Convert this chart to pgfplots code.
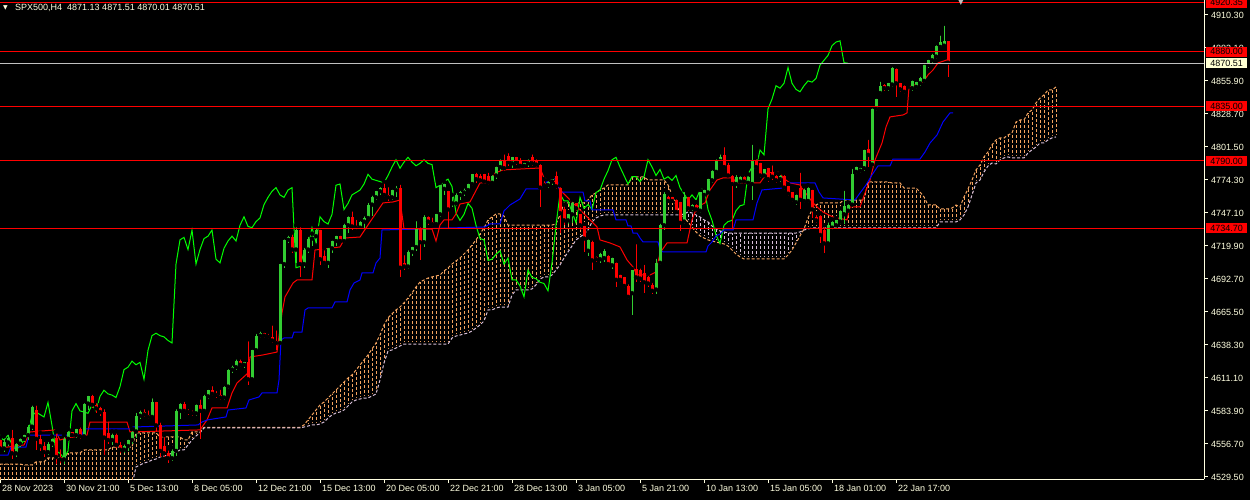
\documentclass[border=0pt]{standalone}
\usepackage{fontspec}
\setmainfont{Liberation Sans}
\newfontfamily\symfont{DejaVu Sans}
\usepackage{pgfplots}
\usepackage{pgfplotstable}
\pgfplotsset{compat=1.18}

\definecolor{cgreen}{RGB}{50,205,50}
\definecolor{cred}{RGB}{255,0,0}
\definecolor{lime}{RGB}{0,255,0}
\definecolor{kblue}{RGB}{0,0,255}
\definecolor{sandy}{RGB}{244,164,96}
\definecolor{thist}{RGB}{216,191,216}
\definecolor{fg}{RGB}{255,255,225}
\definecolor{bidc}{RGB}{192,192,192}
\definecolor{bidbox}{RGB}{255,255,210}

% H4 candles, bar index i (4 px per bar)
\pgfplotstableread{
i o h l c
0 4560 4562 4552 4553
1 4553 4563 4550 4558
2 4558 4566 4555 4562
3 4562 4570 4544 4549
4 4549 4559 4546 4557
5 4557 4563 4554 4561
6 4561 4566 4558 4564
7 4564 4574 4560 4571
8 4571 4590 4568 4587
9 4585 4590 4552 4561
10 4561 4566 4551 4555
11 4555 4560 4546 4550
12 4550 4560 4548 4557
13 4557 4563 4554 4561
14 4562 4567 4540 4546
15 4546 4554 4541 4544
16 4544 4564 4540 4561
17 4561 4569 4559 4567
18 4567 4568 4562 4564
19 4564 4571 4562 4569
20 4569 4572 4561 4563
21 4563 4592 4562 4590
22 4590 4598 4585 4596
23 4596 4599 4586 4589
24 4589 4592 4582 4586
25 4586 4589 4580 4583
26 4583 4587 4548 4562
27 4566 4577 4557 4560
28 4560 4567 4556 4564
29 4564 4567 4553 4556
30 4556 4560 4549 4552
31 4552 4558 4549 4555
32 4555 4562 4551 4560
33 4560 4569 4557 4567
34 4567 4584 4562 4580
35 4580 4586 4577 4583
36 4583 4587 4579 4581
37 4581 4586 4577 4579
38 4579 4596 4578 4591
39 4591 4593 4567 4572
40 4572 4576 4546 4551
41 4555 4564 4546 4549
42 4549 4553 4541 4545
43 4545 4554 4543 4551
44 4551 4587 4547 4584
45 4584 4592 4577 4590
46 4590 4593 4582 4584
47 4584 4587 4581 4583
48 4583 4586 4580 4582
49 4582 4591 4580 4589
50 4589 4595 4561 4584
51 4584 4599 4583 4596
52 4596 4603 4594 4601
53 4601 4606 4596 4598
54 4598 4602 4595 4597
55 4597 4603 4593 4595
56 4595 4606 4593 4604
57 4604 4620 4602 4618
58 4618 4623 4615 4620
59 4620 4628 4618 4625
60 4625 4628 4620 4622
61 4622 4626 4619 4624
62 4624 4643 4605 4610
63 4610 4636 4609 4634
64 4634 4649 4633 4646
65 4646 4651 4644 4648
66 4648 4650 4644 4646
67 4646 4649 4643 4645
68 4645 4656 4640 4642
69 4642 4652 4634 4640
70 4640 4707 4638 4705
71 4705 4727 4702 4725
72 4725 4730 4722 4727
73 4727 4731 4714 4717
74 4717 4737 4706 4733
75 4733 4737 4694 4705
76 4705 4720 4702 4717
77 4717 4729 4714 4726
78 4726 4730 4720 4728
79 4728 4736 4722 4733
80 4733 4735 4704 4709
81 4712 4718 4704 4706
82 4706 4720 4702 4718
83 4718 4726 4714 4724
84 4724 4730 4720 4728
85 4728 4730 4722 4724
86 4724 4740 4722 4737
87 4737 4746 4731 4744
88 4744 4750 4733 4736
89 4736 4743 4733 4735
90 4735 4742 4734 4740
91 4740 4746 4735 4743
92 4743 4757 4741 4754
93 4754 4763 4745 4760
94 4760 4767 4758 4765
95 4765 4770 4762 4768
96 4768 4773 4760 4762
97 4762 4770 4757 4760
98 4760 4768 4758 4766
99 4766 4771 4760 4768
100 4768 4772 4694 4702
101 4706 4714 4700 4703
102 4703 4718 4701 4715
103 4715 4721 4712 4719
104 4719 4742 4716 4735
105 4735 4737 4708 4723
106 4723 4747 4719 4744
107 4744 4746 4737 4740
108 4740 4745 4736 4738
109 4738 4748 4737 4746
110 4746 4772 4744 4770
111 4767 4773 4762 4771
112 4765 4767 4735 4750
113 4755 4762 4752 4755
114 4755 4765 4753 4762
115 4762 4767 4758 4764
116 4764 4769 4761 4766
117 4766 4773 4764 4771
118 4771 4781 4769 4779
119 4779 4782 4772 4775
120 4778 4781 4772 4774
121 4779 4781 4771 4773
122 4778 4782 4770 4772
123 4772 4780 4771 4778
124 4778 4787 4775 4785
125 4785 4793 4782 4791
126 4791 4797 4782 4784
127 4794 4798 4786 4789
128 4788 4795 4784 4793
129 4793 4795 4787 4789
130 4791 4794 4784 4786
131 4786 4790 4784 4788
132 4788 4793 4785 4791
133 4793 4797 4786 4788
134 4790 4793 4785 4787
135 4787 4789 4752 4768
136 4772 4775 4769 4770
137 4770 4775 4768 4773
138 4773 4776 4770 4775
139 4778 4783 4767 4769
140 4768 4770 4731 4747
141 4750 4754 4737 4741
142 4741 4748 4738 4746
143 4746 4758 4739 4755
144 4755 4756 4749 4751
145 4746 4747 4733 4737
146 4736 4738 4715 4726
147 4716 4727 4712 4725
148 4723 4726 4700 4708
149 4711 4713 4707 4709
150 4709 4716 4706 4713
151 4710 4719 4707 4716
152 4712 4714 4703 4705
153 4704 4712 4701 4710
154 4706 4708 4686 4692
155 4696 4698 4690 4692
156 4694 4696 4685 4687
157 4687 4690 4676 4678
158 4681 4701 4663 4700
159 4701 4723 4690 4694
160 4700 4703 4690 4693
161 4698 4706 4681 4690
162 4694 4697 4686 4689
163 4688 4691 4680 4683
164 4684 4711 4680 4706
165 4706 4740 4704 4737
166 4737 4766 4733 4763
167 4760 4763 4755 4757
168 4760 4762 4755 4757
169 4758 4760 4746 4748
170 4756 4758 4732 4739
171 4740 4766 4738 4760
172 4760 4762 4749 4751
173 4751 4756 4749 4754
174 4754 4756 4748 4750
175 4749 4766 4747 4764
176 4762 4768 4760 4766
177 4764 4777 4762 4775
178 4774 4784 4772 4782
179 4781 4793 4779 4791
180 4790 4797 4788 4793
181 4795 4803 4783 4785
182 4787 4790 4776 4778
183 4778 4780 4735 4771
184 4771 4780 4768 4777
185 4773 4779 4771 4777
186 4777 4779 4771 4773
187 4772 4779 4770 4777
188 4771 4805 4758 4791
189 4791 4793 4783 4785
190 4788 4790 4776 4778
191 4778 4785 4776 4783
192 4784 4786 4773 4775
193 4781 4788 4774 4777
194 4778 4780 4772 4774
195 4775 4780 4773 4778
196 4778 4780 4766 4768
197 4769 4771 4761 4763
198 4764 4766 4756 4758
199 4756 4764 4754 4762
200 4768 4782 4750 4758
201 4757 4769 4755 4766
202 4757 4770 4755 4768
203 4766 4768 4743 4750
204 4744 4747 4739 4741
205 4745 4747 4722 4729
206 4733 4737 4714 4722
207 4722 4741 4721 4737
208 4735 4742 4733 4740
209 4737 4743 4735 4741
210 4740 4751 4738 4749
211 4746 4767 4738 4753
212 4749 4756 4747 4754
213 4754 4785 4752 4779
214 4781 4787 4779 4785
215 4782 4786 4780 4784
216 4784 4801 4782 4799
217 4800 4809 4785 4795
218 4787 4835 4785 4833
219 4833 4843 4831 4841
220 4846 4857 4844 4852
221 4853 4855 4848 4850
222 4850 4856 4848 4854
223 4853 4869 4851 4867
224 4866 4868 4843 4854
225 4854 4856 4847 4849
226 4852 4854 4845 4847
227 4851 4854 4849 4852
228 4850 4858 4848 4856
229 4851 4857 4849 4855
230 4854 4861 4852 4858
231 4856 4871 4854 4869
232 4869 4875 4867 4873
233 4873 4880 4871 4877
234 4876 4887 4874 4885
235 4884 4895 4883 4888
236 4885 4903 4884 4889
237 4889 4890 4859 4871
238 4871.13 4871.51 4870.01 4870.51
}\candles

% Senkou span A (a) and span B (b), already shifted 26 bars forward
\pgfplotstableread{
i a b
0 4540.2 4522.9
1 4540.2 4522.9
2 4540.2 4522.9
3 4540.2 4522.9
4 4540.2 4522.9
5 4540.2 4522.9
6 4539.4 4522.9
7 4539.4 4522.9
8 4539.4 4522.9
9 4541.9 4522.9
10 4541.9 4522.9
11 4541.9 4522.9
12 4545.2 4522.9
13 4545.2 4522.9
14 4545.2 4522.9
15 4545.2 4522.9
16 4545.2 4522.9
17 4549.3 4522.9
18 4549.3 4522.9
19 4549.3 4522.9
20 4549.3 4522.9
21 4551.8 4522.9
22 4551.8 4522.9
23 4551.8 4522.9
24 4551.8 4522.9
25 4551.8 4522.9
26 4551.8 4522.9
27 4551.8 4522.9
28 4554.2 4522.9
29 4554.2 4522.9
30 4554.2 4522.9
31 4554.2 4522.9
32 4554.2 4522.9
33 4554.2 4522.9
34 4565.8 4537.8
35 4565.8 4539.4
36 4565.8 4541.0
37 4565.8 4541.9
38 4565.8 4543.5
39 4565.8 4544.3
40 4562.5 4546.0
41 4562.5 4546.8
42 4562.5 4547.6
43 4562.5 4549.3
44 4562.5 4550.1
45 4562.5 4551.8
46 4560.0 4551.8
47 4560.0 4555.9
48 4566.6 4560.0
49 4566.6 4563.3
50 4566.6 4566.0
51 4570.5 4569.9
52 4570.5 4569.9
53 4570.5 4569.9
54 4570.5 4569.9
55 4570.5 4569.9
56 4570.5 4569.9
57 4570.5 4569.9
58 4570.5 4569.9
59 4570.5 4569.9
60 4570.5 4569.9
61 4570.5 4569.9
62 4570.5 4569.9
63 4570.5 4569.9
64 4570.5 4569.9
65 4570.5 4569.9
66 4570.5 4569.9
67 4570.5 4569.9
68 4570.5 4569.9
69 4570.5 4569.9
70 4570.5 4569.9
71 4570.5 4569.9
72 4570.5 4569.9
73 4570.5 4569.9
74 4570.5 4569.9
75 4570.5 4569.9
76 4572.4 4570.7
77 4576.5 4571.5
78 4580.6 4572.4
79 4584.7 4572.4
80 4588.9 4573.2
81 4591.3 4574.8
82 4594.6 4578.1
83 4597.9 4580.6
84 4601.2 4582.3
85 4604.5 4583.1
86 4607.8 4584.7
87 4611.1 4588.0
88 4613.6 4591.3
89 4617.7 4593.0
90 4621.8 4593.8
91 4626.0 4594.6
92 4630.1 4594.6
93 4635.0 4596.3
94 4639.9 4597.9
95 4646.5 4609.5
96 4654.8 4623.5
97 4660.6 4633.4
98 4663.9 4634.2
99 4667.2 4635.8
100 4669.6 4637.5
101 4673.0 4639.1
102 4677.1 4639.1
103 4681.2 4639.1
104 4686.1 4639.1
105 4690.2 4639.1
106 4691.9 4639.1
107 4693.5 4639.1
108 4694.4 4639.1
109 4695.2 4639.1
110 4696.0 4639.1
111 4699.3 4639.1
112 4701.8 4639.1
113 4705.1 4644.1
114 4707.6 4645.7
115 4710.0 4646.5
116 4713.3 4647.4
117 4716.6 4648.2
118 4720.7 4649.8
119 4724.9 4652.3
120 4729.8 4654.8
121 4734.8 4658.1
122 4741.4 4667.2
123 4743.8 4667.2
124 4746.3 4668.8
125 4746.3 4669.6
126 4744.6 4669.6
127 4737.2 4669.6
128 4737.2 4679.5
129 4737.2 4683.7
130 4737.2 4683.7
131 4737.2 4683.7
132 4737.2 4683.7
133 4737.2 4684.5
134 4737.2 4687.8
135 4737.2 4692.7
136 4737.2 4694.4
137 4737.2 4694.4
138 4737.2 4696.0
139 4738.1 4700.1
140 4745.5 4704.3
141 4755.4 4710.0
142 4755.4 4715.0
143 4755.4 4719.9
144 4755.4 4724.9
145 4755.4 4727.3
146 4755.4 4729.8
147 4757.8 4733.1
148 4762.0 4739.7
149 4763.6 4743.0
150 4766.1 4744.6
151 4767.7 4745.5
152 4770.2 4745.5
153 4770.2 4745.5
154 4770.2 4745.5
155 4770.2 4745.5
156 4770.2 4745.5
157 4770.2 4745.5
158 4776.8 4745.5
159 4776.8 4745.5
160 4776.8 4745.5
161 4776.8 4745.5
162 4774.3 4745.5
163 4774.3 4745.5
164 4774.3 4745.5
165 4774.3 4745.5
166 4774.3 4745.5
167 4770.2 4745.5
168 4762.0 4745.5
169 4753.7 4745.5
170 4748.0 4745.5
171 4743.0 4746.3
172 4739.7 4747.9
173 4735.6 4747.1
174 4731.5 4745.5
175 4728.2 4743.8
176 4726.5 4741.4
177 4724.9 4739.7
178 4724.0 4736.4
179 4723.2 4733.9
180 4722.4 4732.3
181 4721.6 4731.5
182 4719.9 4730.6
183 4716.6 4730.6
184 4713.3 4730.6
185 4710.9 4730.6
186 4709.2 4730.6
187 4709.2 4730.6
188 4709.2 4730.6
189 4709.2 4730.6
190 4709.2 4730.6
191 4709.2 4730.6
192 4709.2 4730.6
193 4709.2 4730.6
194 4709.2 4730.6
195 4709.2 4730.6
196 4709.2 4730.6
197 4712.5 4730.6
198 4716.6 4730.6
199 4722.4 4730.6
200 4728.2 4731.5
201 4733.9 4733.1
202 4743.0 4733.9
203 4749.6 4734.8
204 4753.7 4734.8
205 4755.4 4734.8
206 4755.4 4734.8
207 4755.4 4734.8
208 4755.4 4734.8
209 4755.4 4734.8
210 4755.4 4734.8
211 4757.8 4734.8
212 4757.8 4734.8
213 4757.8 4734.8
214 4757.8 4734.8
215 4757.8 4734.8
216 4757.8 4734.8
217 4772.7 4734.8
218 4772.7 4734.8
219 4772.7 4734.8
220 4772.7 4734.8
221 4772.7 4734.8
222 4772.7 4734.8
223 4771.9 4734.8
224 4771.9 4734.8
225 4771.9 4734.8
226 4767.7 4734.8
227 4767.7 4734.8
228 4767.7 4734.8
229 4767.7 4734.8
230 4764.4 4734.8
231 4760.3 4734.8
232 4753.7 4734.8
233 4753.7 4734.8
234 4753.7 4734.8
235 4750.4 4739.7
236 4750.4 4739.7
237 4750.4 4739.7
238 4751.2 4739.7
239 4753.7 4739.7
240 4752.1 4741.4
241 4760.3 4745.5
242 4766.9 4752.1
243 4774.3 4762.0
244 4782.6 4771.9
245 4786.7 4774.3
246 4793.3 4780.9
247 4797.4 4785.9
248 4803.2 4788.3
249 4807.3 4787.5
250 4809.0 4790.8
251 4809.0 4792.5
252 4811.4 4793.3
253 4813.1 4792.5
254 4822.1 4792.5
255 4823.8 4792.5
256 4823.8 4792.5
257 4829.6 4796.6
258 4832.0 4799.1
259 4837.8 4801.5
260 4841.9 4804.8
261 4844.4 4804.8
262 4848.5 4807.3
263 4848.5 4809.0
264 4851.0 4809.8
}\cloud

\begin{document}
\fontsize{9bp}{10bp}\selectfont
\begin{tikzpicture}
\fill[black] (0,0) rectangle (1250bp,500bp);
\begin{axis}[
  at={(0,21bp)}, anchor=south west,
  width=1204bp, height=479bp, scale only axis,
  xmin=0, xmax=301, ymin=4527.85, ymax=4922.66,
  clip mode=individual,
  axis x line*=bottom, axis y line*=right,
  axis line style={fg, line width=1bp},
  tick align=outside, major tick length=4bp,
  tick style={fg, line width=1bp},
  xtick={0,16,...,224},
  xticklabels={28 Nov 2023, 30 Nov 21:00, 5 Dec 13:00, 8 Dec 05:00, 12 Dec 21:00, 15 Dec 13:00, 20 Dec 05:00, 22 Dec 21:00, 28 Dec 13:00, 3 Jan 05:00, 5 Jan 21:00, 10 Jan 13:00, 15 Jan 05:00, 18 Jan 01:00, 22 Jan 17:00},
  ytick={4529.5,4556.7,4583.9,4611.1,4638.3,4665.5,4692.7,4719.9,4747.1,4774.3,4801.5,4828.7,4855.9,4883.1,4910.3},
  yticklabels={4529.50,4556.70,4583.90,4611.10,4638.30,4665.50,4692.70,4719.90,4747.10,4774.30,4801.50,4828.70,4855.90,4883.10,4910.30},
  xticklabel style={anchor=north west, inner sep=0pt, xshift=2bp, yshift=-2bp, text=fg, font=\fontsize{9bp}{10bp}\selectfont},
  yticklabel style={anchor=west, inner sep=0pt, xshift=3bp, text=fg, font=\fontsize{9bp}{10bp}\selectfont},
]
% cloud hatching, span A above span B
\addplot[only marks, mark=none, error bars/.cd, y dir=plus, y explicit, error mark=none,
  error bar style={sandy, line width=1bp, dash pattern=on 3bp off 2bp}]
  table[x=i, y expr={\thisrow{a}>\thisrow{b} ? \thisrow{b} : nan},
        y error plus expr={\thisrow{a}-\thisrow{b}}] {\cloud};
% cloud hatching, span B above span A
\addplot[only marks, mark=none, error bars/.cd, y dir=plus, y explicit, error mark=none,
  error bar style={thist, line width=1bp, dash pattern=on 3bp off 2bp}]
  table[x=i, y expr={\thisrow{b}>\thisrow{a} ? \thisrow{a} : nan},
        y error plus expr={\thisrow{b}-\thisrow{a}}] {\cloud};
\addplot[sandy, line width=1bp, dash pattern=on 3bp off 2bp] table[x=i, y=a] {\cloud};
\addplot[thist, line width=1bp, dash pattern=on 3bp off 2bp] table[x=i, y=b] {\cloud};

% chikou span: closes 26 bars back
\addplot[lime, line width=1bp] table[x expr=\thisrow{i}-26, y=c] {\candles};

% tenkan-sen
\addplot[cred, line width=1bp] coordinates {
(0,4553.4) (6,4555.9) (7.5,4566.6) (13.75,4568.3) (15,4560.0) (16.75,4561.7)
(21.75,4564.1) (22.5,4574.8) (31.75,4574.8) (32.5,4566.6) (50,4568.3) (51.75,4576.5)
(53,4586.4) (56.75,4586.4) (58,4598.8) (59.25,4607.0) (62,4615.2) (62.5,4628.4)
(65.75,4630.1) (69.25,4632.5) (70.5,4664.7) (71.25,4677.9) (73.25,4689.4) (74.25,4691.9)
(78,4691.9) (78.75,4716.6) (83,4718.3) (85,4719.1) (86.25,4726.5) (90,4727.3)
(92.5,4739.7) (95.75,4755.4) (98.25,4756.2) (100,4757.8) (101,4733.9) (108,4733.9)
(109,4724.0) (110,4737.2) (111,4741.4) (113,4741.4) (114,4746.3) (115,4754.5)
(117.5,4756.2) (120,4771.9) (122.5,4771.9) (123.75,4780.1) (125.75,4782.6) (135,4784.2)
(136,4776.0) (139,4772.7) (140,4766.1) (144.25,4752.1) (147.5,4741.4) (149.25,4735.6)
(150,4724.9) (152.5,4722.4) (155,4719.1) (156.75,4708.4) (158.25,4702.6) (159.25,4696.0)
(162.5,4696.0) (164,4698.5) (165,4714.2) (166.75,4722.4) (171.75,4722.4) (173,4741.4)
(174.25,4752.1) (176.25,4755.4) (177.5,4766.1) (179.25,4774.3) (180.75,4776.0) (183.25,4776.0)
(184,4771.9) (190,4771.9) (191.75,4780.1) (195,4780.9) (195.75,4776.0) (197.5,4771.9)
(200,4770.2) (201.75,4762.0) (203.25,4755.4) (204.25,4752.1) (205.75,4747.9) (208.25,4743.8)
(211.75,4741.4) (212.5,4752.1) (215,4752.1) (216.25,4763.6) (217.5,4774.3) (218.75,4790.8)
(220.5,4804.8) (221.5,4818.0) (222.5,4826.3) (225.75,4827.9) (226.75,4829.6) (227.25,4851.0)
(230.75,4855.1) (232,4860.9) (233.25,4865.0) (234.5,4870.8) (236.75,4873.3) (238,4871.6)
};

% kijun-sen
\addplot[kblue, line width=1bp] coordinates {
(0,4547.6) (2,4547.6) (2.75,4554.2) (6.5,4554.2) (7.25,4564.1) (20.5,4564.1)
(21,4569.1) (32.5,4569.1) (33.25,4570.7) (49.5,4572.4) (50.5,4574.8) (51.75,4576.5)
(56.5,4579.0) (57,4584.7) (61.5,4586.4) (62.25,4593.0) (64.75,4595.5) (65.5,4598.8)
(69.25,4598.8) (69.75,4609.5) (70.25,4642.4) (71,4644.1) (73,4644.1) (73.5,4649.0)
(75.5,4649.0) (76.25,4667.2) (77,4668.8) (83,4668.8) (83.75,4673.8) (86.75,4673.8)
(87.5,4683.7) (88.5,4689.4) (90,4691.9) (90.5,4697.7) (93.25,4697.7) (94,4705.9)
(95,4710.0) (95.5,4733.1) (121.25,4735.6) (122.5,4738.1) (125,4738.1) (126,4748.8)
(127.5,4753.7) (130,4758.7) (131.5,4766.9) (135,4766.9) (137.5,4775.2) (139.25,4775.2)
(140,4764.4) (145.75,4764.4) (146.25,4757.0) (147.5,4757.0) (148,4749.6) (153.25,4749.6)
(154,4741.4) (156.5,4741.4) (157,4736.4) (157.75,4736.4) (158.25,4730.6) (159.25,4730.6)
(160,4726.5) (160.75,4723.2) (164.5,4723.2) (165,4716.6) (165.75,4715.0) (176.5,4715.0)
(177,4719.9) (178,4723.2) (179,4728.2) (180,4729.8) (181,4733.1) (183.25,4733.1)
(184,4741.4) (188.25,4741.4) (189.25,4755.4) (190.5,4766.1) (195.75,4767.7) (196.75,4771.9)
(203.75,4771.9) (204.75,4764.4) (205.75,4759.5) (213.75,4757.8) (215,4763.6) (216.5,4770.2)
(218,4778.5) (219.5,4785.9) (222.5,4785.9) (223.25,4791.6) (230,4791.6) (231.25,4797.4)
(232.5,4804.8) (234.25,4811.4) (235.75,4822.1) (237.5,4829.6) (238.25,4829.6)
};

% candle wicks
\addplot[only marks, mark=none, error bars/.cd, y dir=minus, y explicit, error mark=none,
  error bar style={cgreen, line width=1bp}]
  table[x=i, y expr={\thisrow{c}>=\thisrow{o} ? \thisrow{h} : nan},
        y error minus expr={\thisrow{h}-\thisrow{l}}] {\candles};
\addplot[only marks, mark=none, error bars/.cd, y dir=minus, y explicit, error mark=none,
  error bar style={cred, line width=1bp}]
  table[x=i, y expr={\thisrow{c}<\thisrow{o} ? \thisrow{h} : nan},
        y error minus expr={\thisrow{h}-\thisrow{l}}] {\candles};
% candle bodies
\addplot[only marks, mark=none, error bars/.cd, y dir=plus, y explicit, error mark=none,
  error bar style={cgreen, line width=3bp}]
  table[x=i, y expr={\thisrow{c}>=\thisrow{o} ? \thisrow{o} : nan},
        y error plus expr={max(\thisrow{c}-\thisrow{o},0.6)}] {\candles};
\addplot[only marks, mark=none, error bars/.cd, y dir=plus, y explicit, error mark=none,
  error bar style={cred, line width=3bp}]
  table[x=i, y expr={\thisrow{c}<\thisrow{o} ? \thisrow{c} : nan},
        y error plus expr={max(\thisrow{o}-\thisrow{c},0.6)}] {\candles};

% horizontal levels and bid line
\addplot[cred, line width=1bp] coordinates {(0,4920.35) (301,4920.35)};
\addplot[cred, line width=1bp] coordinates {(0,4880) (301,4880)};
\addplot[cred, line width=1bp] coordinates {(0,4835) (301,4835)};
\addplot[cred, line width=1bp] coordinates {(0,4790) (301,4790)};
\addplot[cred, line width=1bp] coordinates {(0,4734.7) (301,4734.7)};
\addplot[bidc, line width=1bp] coordinates {(0,4870.51) (301,4870.51)};

\coordinate (q1) at (axis cs:301,4920.35);
\coordinate (q2) at (axis cs:301,4880);
\coordinate (q3) at (axis cs:301,4835);
\coordinate (q4) at (axis cs:301,4790);
\coordinate (q5) at (axis cs:301,4734.7);
\coordinate (qb) at (axis cs:301,4870.51);
\end{axis}

\foreach \p/\v in {q1/4920.35, q2/4880.00, q3/4835.00, q4/4790.00, q5/4734.70}
  \node[fill=cred, text=black, inner sep=0pt, minimum width=41bp, minimum height=10bp,
        anchor=west, xshift=2bp] at (\p) {\v};
\node[fill=bidbox, text=black, inner sep=0pt, minimum width=41bp, minimum height=10bp,
      anchor=west, xshift=2bp] at (qb) {4870.51};

\node[anchor=base west, inner sep=0pt, text=fg] at (3bp,490bp) {\symfont\fontsize{6bp}{6bp}\selectfont ▼};
\node[anchor=base west, inner sep=0pt, text=fg] at (15bp,489bp) {SPX500,H4\hspace{5bp}4871.13 4871.51 4870.01 4870.51};
\node[anchor=north, inner sep=0pt, text=bidc] at (961bp,501bp) {\symfont\fontsize{8bp}{8bp}\selectfont ▼};

\pgfresetboundingbox
\useasboundingbox (0,0) rectangle (1250bp,500bp);
\end{tikzpicture}
\end{document}
